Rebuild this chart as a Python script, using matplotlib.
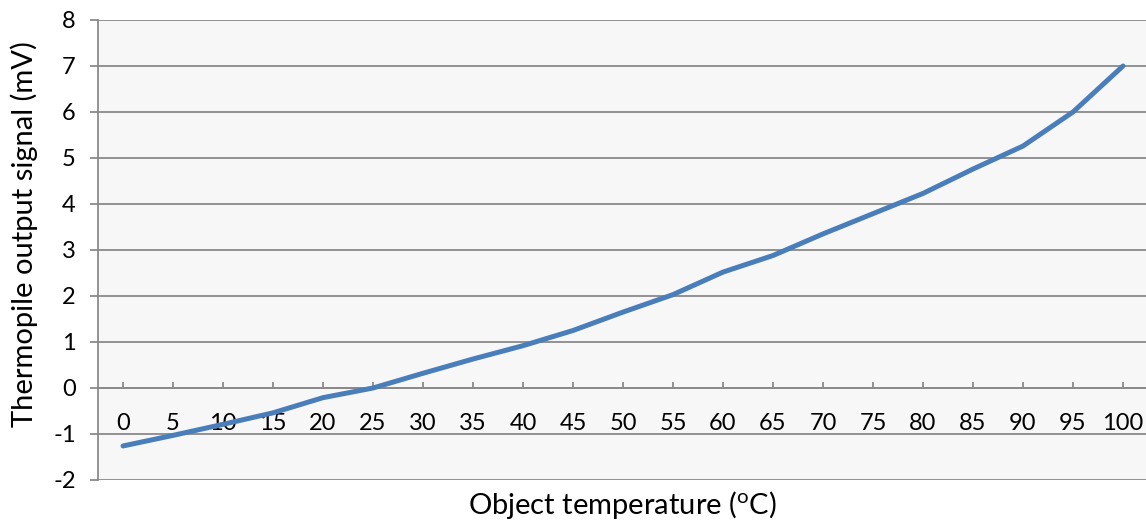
"""Thermopile output signal versus object temperature."""

import matplotlib
matplotlib.use('Agg')
import matplotlib.pyplot as plt
import numpy as np


temperatures = [0, 5, 10, 15, 20, 25, 30, 35, 40, 45, 50,
                55, 60, 65, 70, 75, 80, 85, 90, 95, 100]
signal_mv = [-1.26, -1.03, -0.79, -0.54, -0.21, 0.0, 0.32, 0.63, 0.92, 1.25,
             1.65, 2.03, 2.52, 2.88, 3.35, 3.79, 4.23, 4.76, 5.26, 6.0, 7.0]
y_ticks = list(range(-2, 9))

plt.rcParams['font.family'] = ['Lato', 'DejaVu Sans']
plt.rcParams['mathtext.fontset'] = 'custom'
plt.rcParams['mathtext.rm'] = 'Lato'

GRID = '#8a8a8a'

fig = plt.figure(figsize=(11.46, 5.21), dpi=100)
ax = fig.add_axes([98 / 1146, 41 / 521, 1050 / 1146, 460 / 521])
ax.set_facecolor('#f7f7f7')

positions = np.arange(len(temperatures))
ax.plot(positions, signal_mv, color='#4a7ebb', linewidth=3.6,
        solid_capstyle='round', solid_joinstyle='round', zorder=3)

ax.set_xlim(-0.5, len(temperatures) - 0.5)
ax.set_ylim(-2, 8)
ax.set_yticks(y_ticks)
ax.set_yticklabels([str(v) for v in y_ticks])
ax.set_xticks(positions)
ax.set_xticklabels([str(t) for t in temperatures])

ax.grid(axis='y', color=GRID, linewidth=1.3)
ax.set_axisbelow(True)

for side in ('top', 'right'):
  ax.spines[side].set_visible(False)
ax.spines['left'].set_color(GRID)
ax.spines['left'].set_linewidth(1.3)
ax.spines['bottom'].set_position(('data', 0))
ax.spines['bottom'].set_color(GRID)
ax.spines['bottom'].set_linewidth(1.3)
ax.spines['bottom'].set_zorder(2)

ax.tick_params(axis='y', direction='out', length=6, width=1.3, color=GRID,
               pad=10, labelsize=17, labelcolor='black')
ax.tick_params(axis='x', direction='in', length=4, width=1.3, color=GRID,
               pad=18, labelsize=17, labelcolor='black')

ax.set_ylabel('Thermopile output signal (mV)', fontsize=21)
ax.yaxis.set_label_coords(-60 / 1050, (480 - 234) / 460)
ax.set_xlabel('Object temperature ($\\mathrm{^{o}}$C)', fontsize=21)
ax.xaxis.set_label_coords(524 / 1050, (480 - 505) / 460)
ax.xaxis.label.set_verticalalignment('center')

fig.savefig('out.png', dpi=100)
